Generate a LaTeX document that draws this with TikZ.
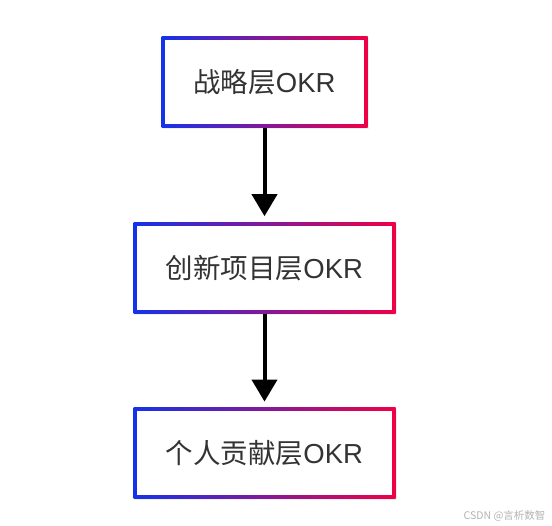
\documentclass[tikz,border=0pt]{standalone}
\usepackage{fontspec}
\setmainfont{Liberation Sans}
\newfontfamily\cjk{Noto Sans CJK SC}
\usepackage{tikz}
\usetikzlibrary{arrows.meta,shapes,shadows,positioning}
\definecolor{okrblue}{RGB}{20,50,235}
\definecolor{okrred}{RGB}{240,0,70}
\definecolor{okrtext}{RGB}{51,51,51}
\tikzset{
    layer/.style={
        rectangle,
        minimum height=91pt,
        left color=okrblue,
        right color=okrred,
        text=okrtext,
        font=\fontsize{27.5pt}{31pt}\selectfont,
        drop shadow={opacity=0.12,shadow xshift=1pt,shadow yshift=-1.5pt},
        path picture={
            \fill[white] ([shift={(3.5pt,3.5pt)}]path picture bounding box.south west)
                rectangle ([shift={(-3.5pt,-3.5pt)}]path picture bounding box.north east);
        },
    },
    every edge/.style={
        draw,
        -{Triangle[width=25pt,length=22pt]},
        line width=4pt,
        shorten >=6pt
    },
    node distance=94pt,
  }

\begin{document}
\begin{tikzpicture}
              \useasboundingbox (0,0) rectangle (552pt,-526pt);
              \node [layer,minimum width=206pt] (strat) at (264.5pt,-82.5pt) {{\cjk 战略层}OKR};
              \node [layer,minimum width=262pt,below=of strat] (proj) {{\cjk 创新项目层}OKR};
              \node [layer,minimum width=262pt,below=of proj] (indiv) {{\cjk 个人贡献层}OKR};

              \draw (strat) edge (proj);
              \draw (proj) edge (indiv);

              \node [anchor=east,text=black!30,font=\cjk\fontsize{10.5pt}{12pt}\selectfont] (mark) at (549pt,-515.5pt) {CSDN @言析数智};
            \end{tikzpicture}
\end{document}
